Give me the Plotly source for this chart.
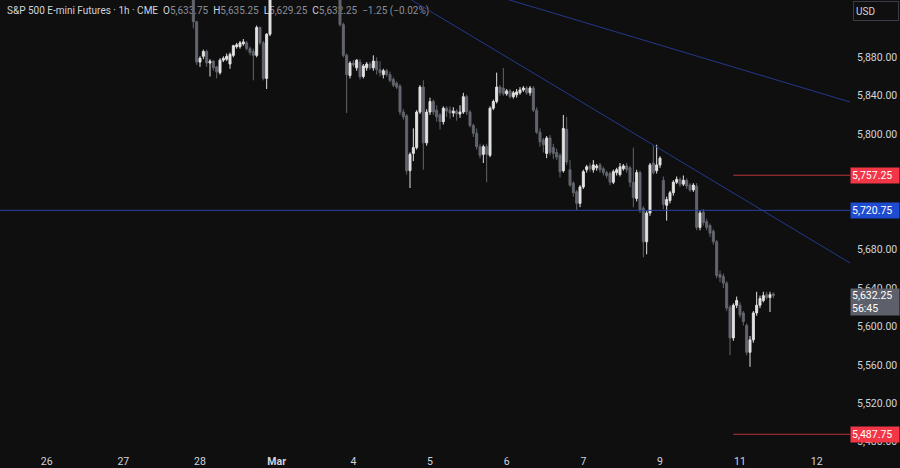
import plotly.graph_objects as go

# ---------------- data ----------------
bar_start = 58  # hourly bar index of the first candle

opens = [
    5952, 5917, 5875, 5881, 5886, 5874, 5876, 5870, 5864, 5877, 5878, 5873, 5882, 5891, 5891, 5894,
    5895, 5889, 5886, 5882, 5911, 5895, 5858, 5904,
    5950, 5960, 5965, 5972, 5978, 5984, 5982, 5986, 5990, 5988, 5980, 5975, 5978, 5969, 5963, 5966,
    5958, 5954, 5956, 5955,
    5956, 5914, 5882, 5861, 5874, 5869, 5875, 5860, 5869, 5873, 5869, 5876, 5867, 5862, 5866, 5862,
    5857, 5853, 5850, 5823, 5819, 5762, 5780, 5786, 5823, 5849, 5791, 5823, 5834, 5825, 5820, 5813,
    5827, 5825, 5822, 5824, 5821, 5823, 5839, 5823, 5809, 5801, 5787, 5779, 5787, 5778, 5827, 5834,
    5849, 5848, 5842, 5845, 5839, 5841, 5843, 5846, 5848, 5843, 5848, 5825, 5802, 5794, 5780, 5796,
    5786, 5781, 5778, 5762, 5805, 5763, 5749, 5740, 5728, 5745, 5763, 5767, 5763, 5765, 5768, 5764,
    5760, 5759, 5750, 5760, 5758, 5764, 5767, 5765, 5750, 5733, 5760, 5723, 5688, 5718, 5770, 5762,
    5768, 5752, 5726, 5731, 5739, 5750, 5753, 5748, 5752, 5747, 5742, 5746, 5703, 5719, 5709, 5705,
    5699, 5688, 5654, 5652, 5645, 5620, 5588, 5622, 5622, 5614, 5601, 5573, 5586, 5614, 5622, 5627,
    5633, 5630, 5633.75,
]
highs = [
    5958, 5918, 5881, 5888, 5888, 5878, 5877, 5871, 5879, 5881, 5884, 5885, 5893, 5895, 5897, 5899,
    5897, 5891, 5889, 5913, 5912, 5897, 5905, 5955,
    5962, 5968, 5975, 5980, 5986, 5990, 5988, 5994, 5996, 5992, 5985, 5982, 5981, 5974, 5970, 5968,
    5962, 5960, 5958, 5960,
    5960, 5916, 5884, 5876, 5877, 5878, 5878, 5873, 5875, 5875, 5882, 5880, 5876, 5868, 5868, 5865,
    5859, 5855, 5852, 5826, 5821, 5781, 5806, 5825, 5851, 5856, 5826, 5838, 5836, 5830, 5822, 5829,
    5829, 5829, 5828, 5826, 5830, 5843, 5841, 5825, 5811, 5806, 5790, 5789, 5790, 5829, 5836, 5864,
    5851, 5869, 5847, 5847, 5845, 5847, 5849, 5850, 5850, 5850, 5850, 5828, 5806, 5796, 5798, 5799,
    5790, 5785, 5780, 5820, 5818, 5773, 5751, 5742, 5747, 5763, 5768, 5770, 5773, 5769, 5770, 5766,
    5762, 5761, 5763, 5765, 5770, 5769, 5770, 5767, 5786, 5763, 5762, 5725, 5720, 5770, 5788, 5789,
    5777, 5756, 5735, 5741, 5752, 5756, 5755, 5757, 5754, 5749, 5749, 5749, 5721, 5722, 5712, 5707,
    5701, 5690, 5658, 5655, 5647, 5622, 5624, 5631, 5625, 5616, 5603, 5590, 5616, 5636, 5632, 5636,
    5636, 5636, 5635.25,
]
lows = [
    5910, 5872, 5870, 5878, 5870, 5860, 5866, 5858, 5862, 5875, 5876, 5868, 5880, 5889, 5889, 5892,
    5887, 5882, 5856, 5880, 5893, 5856, 5847, 5902,
    5946, 5956, 5962, 5968, 5974, 5979, 5976, 5983, 5985, 5978, 5972, 5970, 5966, 5960, 5958, 5955,
    5950, 5948, 5946, 5948,
    5912, 5880, 5822, 5858, 5870, 5866, 5857, 5858, 5866, 5867, 5866, 5862, 5860, 5858, 5860, 5854,
    5849, 5847, 5820, 5815, 5758, 5744, 5772, 5784, 5821, 5763, 5788, 5820, 5820, 5813, 5805, 5810,
    5818, 5816, 5818, 5814, 5817, 5821, 5820, 5807, 5797, 5784, 5775, 5770, 5750, 5776, 5825, 5832,
    5840, 5840, 5840, 5837, 5837, 5838, 5841, 5844, 5841, 5840, 5823, 5800, 5787, 5781, 5775, 5778,
    5774, 5773, 5755, 5760, 5768, 5745, 5735, 5721, 5724, 5743, 5760, 5761, 5760, 5762, 5760, 5757,
    5754, 5747, 5748, 5757, 5756, 5762, 5760, 5745, 5724, 5730, 5718, 5672, 5675, 5715, 5758, 5759,
    5765, 5722, 5710, 5728, 5736, 5748, 5745, 5746, 5743, 5740, 5740, 5700, 5700, 5705, 5700, 5693,
    5685, 5650, 5646, 5640, 5616, 5570, 5585, 5619, 5609, 5601, 5570, 5558, 5583, 5611, 5619, 5625,
    5628, 5615, 5629.25,
]
closes = [
    5917, 5875, 5879, 5886, 5874, 5876, 5869, 5865, 5877, 5879, 5881, 5883, 5892, 5893, 5895, 5896,
    5889, 5885, 5882, 5911, 5895, 5858, 5904, 5950,
    5958, 5965, 5972, 5978, 5984, 5982, 5986, 5990, 5988, 5980, 5975, 5978, 5969, 5963, 5966, 5958,
    5954, 5956, 5955, 5956,
    5914, 5882, 5862, 5874, 5872, 5877, 5860, 5871, 5873, 5869, 5876, 5867, 5864, 5866, 5862, 5856,
    5851, 5849, 5823, 5818, 5762, 5779, 5786, 5823, 5849, 5791, 5823, 5834, 5823, 5818, 5813, 5827,
    5824, 5822, 5824, 5821, 5823, 5839, 5823, 5809, 5801, 5787, 5778, 5787, 5779, 5827, 5834, 5849,
    5843, 5842, 5845, 5839, 5843, 5844, 5846, 5848, 5843, 5848, 5825, 5802, 5792, 5789, 5796, 5781,
    5780, 5776, 5761, 5806, 5771, 5747, 5739, 5728, 5745, 5761, 5766, 5764, 5768, 5767, 5763, 5760,
    5757, 5750, 5761, 5763, 5766, 5767, 5763, 5750, 5734, 5760, 5721, 5688, 5718, 5768, 5760, 5768,
    5775, 5727, 5732, 5739, 5750, 5753, 5748, 5752, 5746, 5742, 5747, 5703, 5718, 5708, 5703, 5697,
    5688, 5653, 5651, 5645, 5619, 5588, 5622, 5627, 5612, 5605, 5573, 5586, 5614, 5622, 5629, 5632,
    5630, 5633, 5632.25,
]
bars = list(range(bar_start, bar_start + len(closes)))

day_tick_bars = [14, 37, 60, 83, 106, 129, 152, 175, 198, 222, 245]
day_tick_labels = ['26', '27', '28', '<b>Mar</b>', '4', '5', '6', '7', '9', '11', '12']
price_ticks = [5480, 5520, 5560, 5600, 5640, 5680, 5720, 5760, 5800, 5840, 5880]

blue_level = 5720.75
red_levels = [5757.25, 5487.75]
red_level_start_bar = 220
trend_upper = [(140, 5953.0), (255, 5833.5)]
trend_lower = [(110, 5967.6), (255, 5666.0)]
last_price = 5632.25
countdown = '56:45'
ohlc_legend = {'O': '5,633.75', 'H': '5,635.25', 'L': '5,629.25', 'C': '5,632.25'}
change_text = '\u22121.25 (\u22120.02%)'

x_range = [0, 255]
y_range = [5474.5, 5939.6]

# ---------------- style ----------------
BG = '#0f0f0f'
UP = '#e2e2e2'
DOWN = '#62656e'
TXT = '#d1d4dc'
FONT = 'Roboto, Noto Sans, sans-serif'

fig = go.Figure()
fig.add_trace(go.Candlestick(
    x=bars, open=opens, high=highs, low=lows, close=closes,
    increasing=dict(line=dict(color=UP, width=1), fillcolor=UP),
    decreasing=dict(line=dict(color=DOWN, width=1), fillcolor=DOWN),
    whiskerwidth=0, showlegend=False, hoverinfo='skip',
))

# horizontal blue level across the whole chart
fig.add_shape(type='line', xref='paper', x0=0, x1=1, yref='y', y0=blue_level, y1=blue_level,
              line=dict(color='#2a41a0', width=1))
# red levels
for lv in red_levels:
    fig.add_shape(type='line', xref='x', x0=red_level_start_bar, x1=x_range[1], yref='y', y0=lv, y1=lv,
                  line=dict(color='#b8323d', width=1))
# trend lines
for (xa, ya), (xb, yb) in [trend_upper, trend_lower]:
    fig.add_shape(type='line', xref='x', yref='y', x0=xa, y0=ya, x1=xb, y1=yb,
                  line=dict(color='#24398a', width=1))

# legend line at top-left (under the candles)
legend_html = ('<span style="color:%s">S&amp;P 500 E-mini Futures \u00b7 1h \u00b7 CME</span>' % TXT)
for k, v in ohlc_legend.items():
    legend_html += '  <span style="color:%s">%s</span><span style="color:#8b8e97">%s</span>' % (TXT, k, v)
legend_html += '  <span style="color:#8b8e97">%s</span>' % change_text
fig.add_shape(type='rect', xref='paper', yref='paper', x0=0, x1=0.8, y0=0.9, y1=1.0,
              line=dict(width=0), fillcolor='rgba(0,0,0,0)', layer='below',
              label=dict(text=legend_html, textposition='top left', padding=4,
                         font=dict(family=FONT, size=10, color=TXT)))


def tag(price, text, color, height=13, anchor='middle', yshift=0):
    fig.add_annotation(xref='paper', x=1, xanchor='left', yref='y', y=price, yanchor=anchor,
                       yshift=yshift, text=text, showarrow=False, align='left',
                       bgcolor=color, borderpad=1, width=46, height=height,
                       font=dict(family=FONT, size=10.5, color='#ffffff'))


for lv in red_levels:
    tag(lv, '{:,.2f}'.format(lv), '#f23645')
tag(blue_level, '{:,.2f}'.format(blue_level), '#1f4bd0')
tag(last_price, '{:,.2f}<br>{}'.format(last_price, countdown), '#5d606b', height=24,
    anchor='top', yshift=7)

# currency box
fig.add_annotation(xref='paper', x=1, xanchor='left', xshift=3, yref='paper', y=1, yanchor='top',
                   yshift=-1, text='USD', showarrow=False, align='left', width=40, height=14,
                   bordercolor='#3a3d45', borderwidth=1, borderpad=2,
                   font=dict(family=FONT, size=10, color=TXT))

fig.update_layout(
    width=900, height=468,
    margin=dict(l=0, r=50, t=0, b=21),
    paper_bgcolor=BG, plot_bgcolor='rgba(0,0,0,0)',
    font=dict(family=FONT, size=10, color=TXT),
    showlegend=False,
    boxgap=0.15,
    xaxis=dict(range=x_range, rangeslider=dict(visible=False), showgrid=False, zeroline=False,
               showline=False, ticks='', tickvals=day_tick_bars, ticktext=day_tick_labels,
               tickfont=dict(family=FONT, size=10.5, color=TXT), ticklabelstandoff=6),
    yaxis=dict(range=y_range, side='right', showgrid=False, zeroline=False, showline=False,
               ticks='', tickvals=price_ticks,
               ticktext=['{:,.2f}'.format(v) for v in price_ticks],
               tickfont=dict(family=FONT, size=10.5, color=TXT), ticklabelstandoff=6),
)

fig.write_html('out.html', config={'displayModeBar': False},
               post_script="document.body.style.margin='0';document.body.style.background='#0f0f0f';")
